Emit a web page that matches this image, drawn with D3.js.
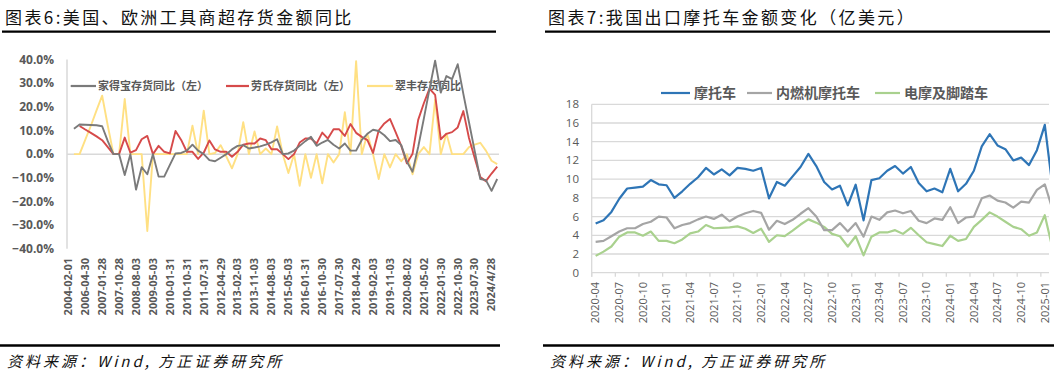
<!DOCTYPE html>
<html>
<head>
<meta charset="utf-8">
<script src="https://cdn.jsdelivr.net/npm/d3@7"></script>
<style>
body { margin: 0; background: #fff; }
svg { display: block; }
text { font-family: "Open Sans", "Noto Sans CJK SC", sans-serif; }
</style>
</head>
<body>
<div id="chart"></div>
<script>
// ---- left chart data (quarterly, % yoy) ----
var leftTicks = ["2004-02-01","2006-04-30","2007-01-28","2007-10-28","2008-08-03","2009-05-03",
	"2010-01-31","2010-10-31","2011-07-31","2012-04-29","2013-02-03","2013-11-03","2014-08-03",
	"2015-05-03","2016-01-31","2016-10-30","2017-07-30","2018-04-29","2019-02-03","2019-11-03",
	"2020-08-02","2021-05-02","2022-01-30","2022-10-30","2023-07-30","2024/4/28"];
var leftTickStep = 3;
var leftYTicks = [-40, -30, -20, -10, 0, 10, 20, 30, 40];

var homeDepot = [null, 10.7, 12.5, 12.4, 12.3, 12.2, 11.8, 5.5, 0, 0,
	-8.8, 0, -15, -5.5, -8.5, 0, -9.5, -9.5, -4.5, 0.3,
	0.5, 1.5, 4, 1.5, 0, -2.5, -3, -1.5, 0, 2,
	3.5, 3.8, 2.4, 2.8, 3.3, 4, 5, 6.3, 0, 0.3,
	1.5, 3.5, 5.5, 7.3, 3.5, 4.9, 6, 4, 2.4, 4.5,
	1.5, 1.5, 6, 8.6, 10.3, 9.8, 8, 5.5, 6, 3.8,
	-3.2, -7.4, 3, 15, 27.5, 39.5, 26, 33, 31.7, 38,
	25.5, 13.5, 1.5, -10.5, -11, -15.5, -10.5];

var lowes = [null, null, 11.9, 10.4, 9, 7.5, 5.9, 3, 0, 0,
	7, 0.6, 1.7, 6.3, 7.7, 0, 3.5, 1, 0.3, 9.8,
	6, 1, 1, -2, 0.6, 5.8, 2, 1, 1, -1.1,
	1, 4, 4.5, 4.5, 6.6, 5.9, 2.1, 2.1, 0, -2.1,
	0, 4.9, 6.6, 6.6, 4.5, 9.1, 6.6, 10.5, 10.5, 7.7,
	12.7, 9, 7.3, 5.9, 0.5, 10, 13, 14.9, 9.3, 3.5,
	-3.9, 0.2, 14.5, 21.5, 27.7, 25, 6.3, 8.6, 9.3, 11.3,
	18.2, 6.8, -1.5, -9.7, -11.4, -8.2, -5.3];

var kingfisher = [null, 0, 0, 6, 12, 18.5, 24.7, 12, 0, 0,
	23.3, 0, 0, 0, -32.5, 0, 0, 0, 0, 0,
	0, 0, 12, 0, 18.4, 0, 0.5, 3.8, -1, -6,
	0, 13.5, 0, 9.6, 0, 2.4, 0, 11.7, 0, -8,
	0, -13.4, 0, -10, 0, -12.3, 0, -3.5, 0, 17.7,
	0, 39.3, 0, 8.6, 0, -10.5, 0, -5.6, 0, -3,
	0, -8.5, 0, 3, 0, 23, 0, 8.7, 0, 0,
	0, 3, 4, 4.8, 1.5, -2.8, -4.2];

// ---- right chart data (monthly, 亿美元) 2020-04 .. 2025-02 ----
var rightTicks = ["2020-04","2020-07","2020-10","2021-01","2021-04","2021-07","2021-10",
	"2022-01","2022-04","2022-07","2022-10","2023-01","2023-04","2023-07","2023-10",
	"2024-01","2024-04","2024-07","2024-10","2025-01"];
var rightYTicks = [0, 2, 4, 6, 8, 10, 12, 14, 16, 18];

var moto = [5.25, 5.6, 6.5, 7.9, 9.0, 9.1, 9.2, 9.9, 9.45, 9.35,
	8.0, 8.7, 9.5, 10.2, 11.2, 10.5, 11.05, 10.4, 11.2, 11.1,
	10.9, 11.2, 7.95, 9.7, 9.3, 10.3, 11.3, 12.7, 11.4, 9.7,
	8.9, 9.3, 7.2, 9.4, 5.6, 9.9, 10.1, 10.9, 11.4, 10.6,
	11.3, 9.6, 8.7, 9.0, 8.6, 11.1, 8.7, 9.5, 10.9, 13.5,
	14.8, 13.6, 13.2, 12.0, 12.3, 11.5, 13.1, 15.8, 9.0];

var iceMoto = [3.3, 3.4, 3.9, 4.4, 4.75, 4.75, 5.2, 5.45, 6.0, 5.9,
	4.75, 5.1, 5.3, 5.7, 6.0, 5.75, 6.2, 5.5, 6.0, 6.35,
	6.6, 6.4, 4.6, 5.55, 5.2, 5.65, 6.3, 6.9, 6.0, 4.55,
	4.55, 5.3, 4.4, 5.3, 3.85, 6.0, 5.65, 6.45, 6.65, 6.35,
	6.6, 5.55, 5.3, 5.8, 5.65, 7.0, 5.3, 5.9, 6.0, 7.95,
	8.25, 7.7, 7.5, 6.95, 7.6, 7.5, 8.85, 9.45, 6.7];

var eMoto = [1.8, 2.25, 2.8, 3.85, 4.3, 4.3, 3.95, 4.4, 3.4, 3.4,
	3.15, 3.55, 4.2, 4.4, 5.1, 4.75, 4.8, 4.85, 4.95, 4.7,
	4.25, 4.7, 3.3, 4.0, 3.9, 4.5, 5.15, 5.7, 5.35, 4.9,
	4.15, 3.9, 2.8, 3.9, 1.85, 3.85, 4.3, 4.3, 4.55, 4.15,
	4.8, 4.0, 3.25, 3.05, 2.85, 3.95, 3.4, 3.6, 4.9, 5.65,
	6.45, 6.0, 5.45, 4.9, 4.65, 3.95, 4.3, 6.15, 2.5];

var W = 1054, H = 375;
var txt = "#595959", grid = "#d9d9d9";

var svg = d3.select("#chart").append("svg").attr("width", W).attr("height", H);
svg.append("rect").attr("width", W).attr("height", H).attr("fill", "#fff");

// titles, rules and sources
function frame(x0, x1, title)
{
	svg.append("text").attr("x", x0 + 3).attr("y", 23.5)
		.style("font-family", "'Noto Sans CJK SC', sans-serif")
		.style("font-size", "17px").style("letter-spacing", "2.4px")
		.attr("fill", "#111").text(title);
	svg.append("line").attr("x1", x0).attr("x2", x1).attr("y1", 31.7).attr("y2", 31.7)
		.attr("stroke", "#000").attr("stroke-width", 2.3);
	svg.append("line").attr("x1", x0 - 2).attr("x2", x1 + 4).attr("y1", 345.5).attr("y2", 345.5)
		.attr("stroke", "#000").attr("stroke-width", 2.3);
	svg.append("text").attr("x", x0 + 5).attr("y", 367)
		.style("font-family", "'Noto Sans CJK SC', sans-serif")
		.style("font-size", "15px").style("font-style", "italic").style("letter-spacing", "3px")
		.attr("fill", "#111").text("资料来源：Wind, 方正证券研究所");
}
frame(2, 496, "图表6:美国、欧洲工具商超存货金额同比");
frame(545, 1050, "图表7:我国出口摩托车金额变化（亿美元）");

// ---------------- left chart ----------------
var lx = d3.scaleLinear().domain([0, homeDepot.length - 1]).range([68.3, 497.2]);
var ly = d3.scaleLinear().domain([-40, 40]).range([248.8, 59.5]);
var left = svg.append("g");

left.append("line").attr("x1", 67).attr("x2", 67).attr("y1", ly(40)).attr("y2", ly(-40))
	.attr("stroke", grid).attr("stroke-width", 1.5);
left.append("line").attr("x1", 67).attr("x2", 499).attr("y1", ly(0)).attr("y2", ly(0))
	.attr("stroke", grid).attr("stroke-width", 1.5);

left.selectAll("text.ly").data(leftYTicks).enter().append("text").attr("class", "ly")
	.attr("x", 54).attr("y", function(d) { return ly(d); }).attr("dy", "0.35em")
	.attr("text-anchor", "end").attr("fill", txt)
	.style("font-size", "12px").style("font-weight", "bold")
	.text(function(d) { return d3.format(".1f")(d) + "%"; });

left.selectAll("text.lx").data(leftTicks).enter().append("text").attr("class", "lx")
	.attr("transform", function(d, i) { return "translate(" + lx(i * leftTickStep) + ",258) rotate(-90)"; })
	.attr("dy", "0.35em").attr("text-anchor", "end").attr("fill", txt)
	.style("font-size", "11px").style("font-weight", "bold")
	.text(function(d) { return d; });

var leftSeries = [
	{ name: "家得宝存货同比（左）", values: homeDepot, color: "#7a7a7a", lx: 70.7, tx: 98 },
	{ name: "劳氏存货同比（左）", values: lowes, color: "#d64a4a", lx: 226, tx: 251 },
	{ name: "翠丰存货同比", values: kingfisher, color: "#ffe083", lx: 367, tx: 395 }
];

var lline = d3.line().defined(function(d) { return d != null; })
	.x(function(d, i) { return lx(i); }).y(function(d) { return ly(d); });

// legend sits under the lines
leftSeries.forEach(function(s) {
	left.append("line").attr("x1", s.lx).attr("x2", s.tx - 2).attr("y1", 86).attr("y2", 86)
		.attr("stroke", s.color).attr("stroke-width", 2.2);
	left.append("text").attr("x", s.tx).attr("y", 86).attr("dy", "0.36em").attr("fill", txt)
		.style("font-size", "11px").style("font-weight", "bold").text(s.name);
});

leftSeries.slice().reverse().forEach(function(s) {
	left.append("path").datum(s.values).attr("d", lline).attr("fill", "none")
		.attr("stroke", s.color).attr("stroke-width", 1.9).attr("stroke-linejoin", "round");
});

// ---------------- right chart ----------------
var months = d3.timeMonth.range(new Date(2020, 3, 1), new Date(2025, 2, 1));
var fmt = d3.timeFormat("%Y-%m");
var rx = d3.scaleBand().domain(months.map(fmt)).range([591.7, 591.7 + months.length * 7.88]);
var ry = d3.scaleLinear().domain([0, 18]).range([272.7, 104.3]);
var right = svg.append("g");
var rEnd = 1049;

right.selectAll("line.grid").data(rightYTicks).enter().append("line").attr("class", "grid")
	.attr("x1", 591.7).attr("x2", rEnd)
	.attr("y1", function(d) { return ry(d); }).attr("y2", function(d) { return ry(d); })
	.attr("stroke", grid).attr("stroke-width", 1.3);
right.append("line").attr("x1", 591.7).attr("x2", 591.7).attr("y1", ry(18)).attr("y2", ry(0) + 4)
	.attr("stroke", grid).attr("stroke-width", 1.3);
right.selectAll("line.tick").data(rightTicks).enter().append("line").attr("class", "tick")
	.attr("x1", function(d) { return rx(d); }).attr("x2", function(d) { return rx(d); })
	.attr("y1", ry(0)).attr("y2", ry(0) + 4)
	.attr("stroke", grid).attr("stroke-width", 1.3);

right.selectAll("text.ry").data(rightYTicks).enter().append("text").attr("class", "ry")
	.attr("x", 579).attr("y", function(d) { return ry(d); }).attr("dy", "0.35em")
	.attr("text-anchor", "end").attr("fill", txt).style("font-size", "11.5px")
	.text(function(d) { return d; });

right.selectAll("text.rx").data(rightTicks).enter().append("text").attr("class", "rx")
	.attr("transform", function(d) { return "translate(" + (rx(d) + rx.bandwidth() / 2) + ",282) rotate(-90)"; })
	.attr("dy", "0.35em").attr("text-anchor", "end").attr("fill", txt).style("font-size", "11px")
	.text(function(d) { return d; });

svg.append("clipPath").attr("id", "rclip").append("rect")
	.attr("x", 585).attr("y", 90).attr("width", rEnd - 585 + 1).attr("height", 200);

var rightSeries = [
	{ name: "摩托车", values: moto, color: "#2e75b6", lx: 661, tx: 694 },
	{ name: "内燃机摩托车", values: iceMoto, color: "#a5a5a5", lx: 747, tx: 776 },
	{ name: "电摩及脚踏车", values: eMoto, color: "#a9d18e", lx: 875, tx: 904 }
];

var rline = d3.line()
	.x(function(d, i) { return rx(fmt(months[i])) + rx.bandwidth() / 2; })
	.y(function(d) { return ry(d); });

rightSeries.slice().reverse().forEach(function(s) {
	right.append("path").datum(s.values).attr("d", rline).attr("fill", "none")
		.attr("clip-path", "url(#rclip)")
		.attr("stroke", s.color).attr("stroke-width", 2.2).attr("stroke-linejoin", "round");
});

rightSeries.forEach(function(s) {
	right.append("line").attr("x1", s.lx).attr("x2", s.tx - 4).attr("y1", 93).attr("y2", 93)
		.attr("stroke", s.color).attr("stroke-width", 2.2);
	right.append("text").attr("x", s.tx).attr("y", 93).attr("dy", "0.36em").attr("fill", txt)
		.style("font-size", "14px").style("font-weight", "bold").text(s.name);
});
</script>
</body>
</html>
